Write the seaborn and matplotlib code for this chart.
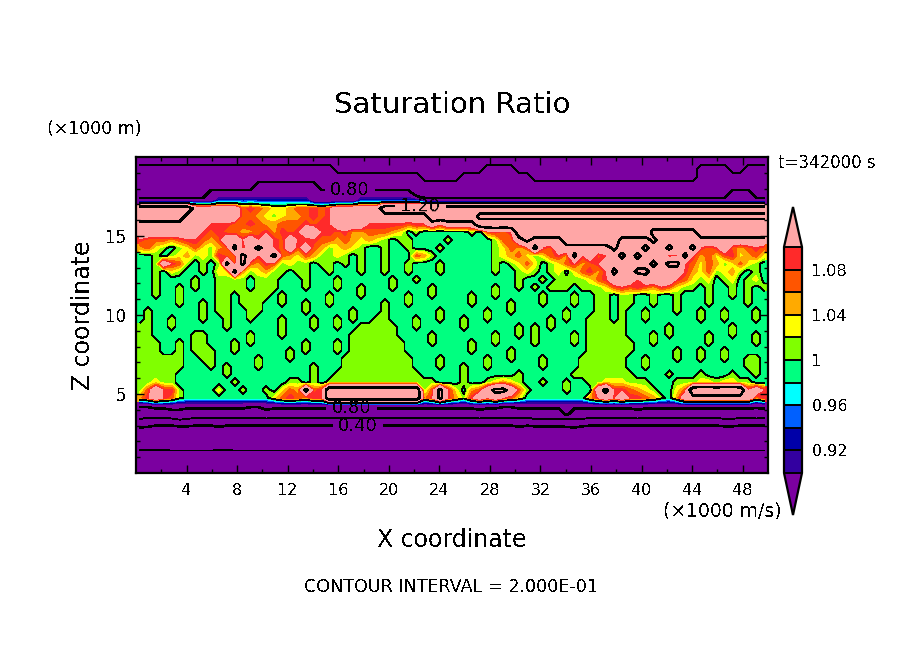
"""Saturation ratio cross section, filled contours over a heatmap."""

import matplotlib.pyplot as plt
import numpy as np
import seaborn as sns
from matplotlib.colors import BoundaryNorm, ListedColormap

# one letter per cell (0.625 km wide, 0.5 km high)
code_values = {
    "a": 0.12, "A": 0.15, "B": 0.30, "b": 0.35, "C": 0.50, "c": 0.55,
    "D": 0.70, "d": 0.75, "E": 0.85, "e": 0.82,
    "1": 0.91, "2": 0.93, "3": 0.95, "4": 0.97, "5": 0.99,
    "6": 1.01, "7": 1.03, "8": 1.05, "9": 1.07, "r": 1.09,
    "p": 1.15, "K": 1.23, "P": 1.30,
}

rows_above_cloud = [
    "C" * 80,
    "DDDDDDDDDD DDDDDDDDDD DDDDDCCCCC CCCCCCCCCC CCCCDDDDCC CCCCCCCCCC CCCCCCCCCC CDDDDCCDDD",
    "DDDDDDDDDD DDDDDDDDDD DDDDDDDDDD DDDDDDCCCC CDDDDDDDDD CCCCCCCCCC CCCCCCCCCC CDDDDDDDDD",
    "DDDDDDDDDD DDDDDEEEEE EEEDDDDDDD DDDDDDDDDD DDDDDDDDDD DDDDDDDDDD DDDDDDDDDD DDDDDDDDDD",
    "DDDDDDDDDE EEEEEEEEEE EEEEEEEEEE EEEEEDDDDD DDDDDDDDDD DDDDDDDDDD DDDDDDDDDD DDDDDEEEDD",
    "EEEEEEEEEE 2222222222 22EEEEEE22 222222EEEE EEEEEEEEEE EEEEEEEEEE EEEEEEEEEE EEEEEEEEEE",
]
rows_cloud = [
    "PPPPPPPppp ppp9r98778 99r9rppppp pPPPPPPPPP PPPPPPPPPP PPPPPPPPPP PPPPPPPPPP PPPPPPPPPP",
    "PPPPPPpppp ppp9987678 89r9rppppp pppppppPPP PPPppppppp pppppppppp pppppppppp pppppppppp",
    "pppppppppr rr99r98899 9r9rrppppr rrrr9rrprp pppPPPPPPP PPPPPPPPPP PPPPPPPPPP PPPPPPPPPP",
    "ppppppppr9 r99889r8r9 rpprr9r889 9987565555 55659r9rPP PPPPPPPPPP PPPPPppppp pPPPPPPPPP",
    "r99989rr98 9pprprpr9p r9r9989878 7656655556 55555699pK ppppPPPPPP PppppKpppp pppppppppp",
    "8976567976 89K9pKpr9p 9p98678765 5655655565 5555567989 Kr9ppppppp KpppKppKpp Kr9rp989r9",
    "5565678676 r99KprpK98 7986676565 5655598655 5555567897 679r8Krp9r pKpKppp9rK r8979r7897",
    "556pr96565 6K9K98r967 6656656565 5655655565 5555565679 75679r89rp pppppKpKKr 9798679765",
    "5565765565 77K8678665 6655655565 5655655565 5555565567 6567579r8r KppKKppppr 8796786565",
    "5565555655 6666566655 5655565555 5565565555 5555555565 565666679r ppprppppr9 7675675675",
    "5565565655 6666566655 5655565565 5565555655 5555565565 6566656667 9r9r98r976 6565565656",
]
rows_body = [
    "5565565555 6656666565 5555655565 5555655655 5565565555 5655565566 5665565565 5565565655",
    "5555565565 6656665565 5655655555 5655655555 5565555655 5655565566 5665565565 5565555655",
    "5655555565 6655665555 5655555655 5655555565 5555655655 5555655566 5655655565 5655655565",
    "5655655565 5655655565 5565565655 6655565565 5655655555 5565655666 5655655555 5655655565",
    "6655655555 5655555565 5565565566 6665565555 5655555565 6565555666 6655555655 5555565555",
    "6655555665 5555655565 5555555666 6665555655 5555565565 6555565666 6655565655 5565565565",
    "6665565665 5565655555 5655565666 6666555655 5565565555 6555565666 6665565555 5565555565",
    "6665565666 5565555556 5655565666 6666555555 5565555655 5555555666 6665555565 5655655555",
    "6666665566 5555565556 5555556666 6666655565 5555655655 5655556666 6655655565 5655655665",
    "6666665556 5655565555 5565556666 6666655565 5655655555 5655556666 6655655555 5555555665",
    "6666655555 5655555555 5565566666 6666665555 5655555565 5555566666 6665555655 5655565565",
]
rows_cloud_base = [
    "6676655555 5565555556 6565666666 6666666655 5655678765 5655655667 7766655566 6776776655",
    "69prr65555 7556556579 8K9rPPPPPP PPPPPP69Kr 7589pKKp96 55556555pK rr98765579 PPPPPPPrpr",
    "8rpr965555 555555579r 98rrPPPPPP PPPPPP8rKr 86rprpr975 55555558rp rprr98658p pppppppp8r",
]
rows_below_cloud = [
    "eeEEEEEEEE EEEEeeEEEE EEEEEEEEEE EEEEEEEEEE EEEEEEeeEE EEEEEEEEEE EEEEEEEEEE EEEEEEEEeE",
    "DDDDddDDDD DDDDDDdDDD DDDDDDDDDD DDDDDDDDDD DDDdDDDDDD DDDDEDDDDD DDDdDDDDDD DDDDDDDDdD",
    "cCCCCccCCC CCCCCCCCCC CCCCCCCCCC CCCCCCCCCC CCCCCCCCCC ccccCccCCC CCCCCCCCCC CCCCccCCCC",
    "bbBBBBBBBB bBBBBBBBBB BBBBBBBBBB BBBBBBBBBB BBBBBBBBbB BBBBbbBBBB BBBBBBBBBB BBBBBBBBBB",
    "B" * 80,
    "B" * 80,
    "aaaaAAAAAA aaAAAAAAAA AAAAAAAAAA AAAAAAAAAA AAAAAAAAAA AAAAAAAAAA AAAAAAAAAA AAAAAAAAAA",
    "A" * 80,
    "A" * 80,
]

fill_levels = [0.90, 0.92, 0.94, 0.96, 0.98, 1.00, 1.02, 1.04, 1.06, 1.08, 1.10]
fill_colors = ["#3300a0", "#0000a8", "#0060ff", "#00ffff", "#00ff80",
               "#80ff00", "#ffff00", "#ffaa00", "#ff5500", "#ff2a2a"]
under_color = "#7b00a0"
over_color = "#ffa6a6"
thin_levels = [0.2, 0.6, 1.0]
thick_levels = [0.4, 0.8, 1.2]
cbar_ticks = [0.92, 0.96, 1.00, 1.04, 1.08]
cbar_labels = ["0.92", "0.96", "1", "1.04", "1.08"]
x_major_km = [4, 8, 12, 16, 20, 24, 28, 32, 36, 40, 44, 48]
x_minor_km = [2, 6, 10, 14, 18, 22, 26, 30, 34, 38, 42, 46]
z_major_km = [5, 10, 15]
z_minor_km = [1, 2, 3, 4, 6, 7, 8, 9, 11, 12, 13, 14, 16, 17, 18, 19]

W, H = 904, 654
CELLS_PER_KM_X = 80 / 50
CELLS_PER_KM_Z = 40 / 20


def parse_rows(rows):
    """Turn the letter rows into a 2D array of ratios."""
    table = []
    for row in rows:
        letters = row.replace(" ", "").ljust(80, row[-1])[:80]
        table.append([code_values[c] for c in letters])
    return np.array(table)


def put_text(fig, x, y, text, **kwargs):
    """Place text using picture pixels, y counted from the top."""
    fig.text(x / W, 1 - y / H, text, color="black", va="center", **kwargs)


sns.set_theme(style="ticks")
plt.rcParams["font.family"] = ["DejaVu Sans"]
plt.rcParams["text.antialiased"] = False

field = parse_rows(rows_above_cloud + rows_cloud + rows_body + rows_cloud_base + rows_below_cloud)

cmap = ListedColormap(fill_colors)
cmap.set_under(under_color)
cmap.set_over(over_color)
norm = BoundaryNorm(fill_levels, cmap.N)

fig = plt.figure(figsize=(W / 100, H / 100), dpi=100)
ax = fig.add_axes([136 / W, 1 - 473 / H, 632 / W, 316 / H])
cax = fig.add_axes([784 / W, 1 - 515 / H, 18 / W, 308 / H])

sns.heatmap(
    field, ax=ax, cmap=cmap, norm=norm, cbar_ax=cax,
    xticklabels=False, yticklabels=False,
    cbar_kws={"extend": "both", "extendfrac": [0.186, 0.177], "drawedges": True,
              "ticks": cbar_ticks, "spacing": "uniform"},
)

# filled bands and contour lines on top of the cells
xs = np.arange(field.shape[1]) + 0.5
ys = np.arange(field.shape[0]) + 0.5
ax.contourf(xs, ys, field, levels=fill_levels, cmap=cmap, norm=norm, extend="both")
ax.contour(xs, ys, field, levels=thin_levels, colors="black", linewidths=0.55, antialiased=False)
thick = ax.contour(xs, ys, field, levels=thick_levels, colors="black", linewidths=1.1, antialiased=False)
ax.clabel(thick, fmt="%.2f", fontsize=13, inline_spacing=6,
          manual=[(27.1, 4.2), (36.0, 6.2), (27.3, 31.6), (28.1, 34.2)])

ax.set_xlim(0, 80)
ax.set_ylim(40, 0)
ax.set_xticks([k * CELLS_PER_KM_X for k in x_major_km])
ax.set_xticks([k * CELLS_PER_KM_X for k in x_minor_km], minor=True)
ax.set_xticklabels([str(k) for k in x_major_km], fontsize=11.5)
ax.set_yticks([(20 - k) * CELLS_PER_KM_Z for k in z_major_km])
ax.set_yticks([(20 - k) * CELLS_PER_KM_Z for k in z_minor_km], minor=True)
ax.set_yticklabels([str(k) for k in z_major_km], fontsize=12, rotation=0)
ax.tick_params(which="major", direction="in", length=5.8, width=1.0, top=True, right=True,
               bottom=True, left=True, color="black", labelcolor="black", pad=7)
ax.tick_params(which="minor", direction="in", length=2.9, width=1.0, top=True, right=True,
               bottom=True, left=True, color="black")
ax.set_axisbelow(False)
for spine in ax.spines.values():
    spine.set_visible(True)
    spine.set_linewidth(1.6)
    spine.set_color("black")

cbar = ax.collections[0].colorbar
cbar.set_ticklabels(cbar_labels, fontsize=11.5, color="black")
cbar.ax.minorticks_off()
cbar.ax.tick_params(length=0, pad=7)
cbar.outline.set_visible(True)
cbar.outline.set_linewidth(1.6)
cbar.outline.set_edgecolor("black")
cbar.dividers.set_color("black")
cbar.dividers.set_linewidth(1.4)

put_text(fig, 452, 105, "Saturation Ratio", fontsize=21, ha="center")
put_text(fig, 47, 129, "(×1000 m)", fontsize=12.5, ha="left")
put_text(fig, 778, 163, "t=342000 s", fontsize=12, ha="left")
put_text(fig, 782, 511, "(×1000 m/s)", fontsize=13.5, ha="right")
put_text(fig, 452, 540, "X coordinate", fontsize=17, ha="center")
put_text(fig, 83, 315, "Z coordinate", fontsize=17, ha="center", rotation=90)
put_text(fig, 451, 587, "CONTOUR INTERVAL = 2.000E-01", fontsize=12.6, ha="center")

fig.savefig("out.png", dpi=100)
